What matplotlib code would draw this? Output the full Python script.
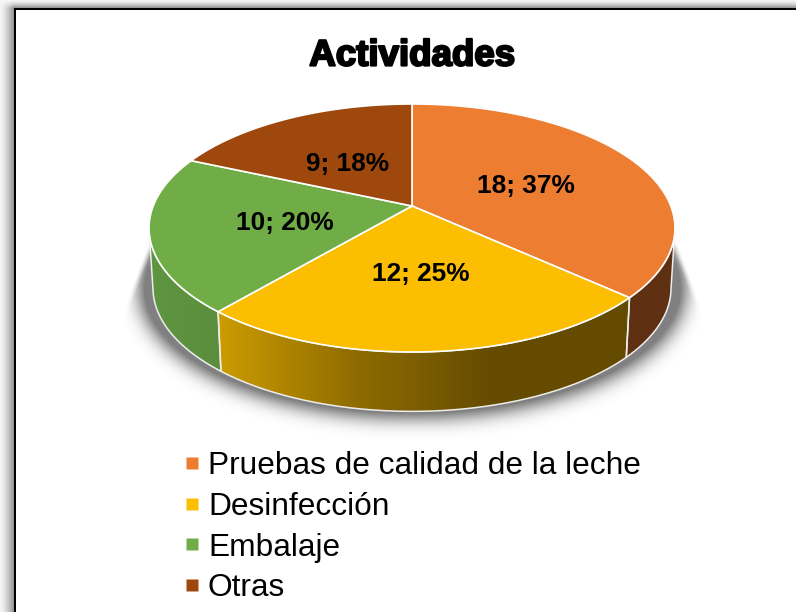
import numpy as np
import matplotlib
matplotlib.use("Agg")
import matplotlib.pyplot as plt
import matplotlib.patheffects as pe
from matplotlib.colors import LinearSegmentedColormap
from matplotlib.lines import Line2D
from matplotlib.patches import Polygon

plt.rcParams['font.family'] = ['Liberation Sans', 'DejaVu Sans']

# datos
categorias = ['Pruebas de calidad de la leche', 'Desinfección', 'Embalaje', 'Otras']
valores = [18, 12, 10, 9]
etiquetas = ['18; 37%', '12; 25%', '10; 20%', '9; 18%']
colores = ['#ED7D31', '#FCBE00', '#70AD47', '#9E480E']
titulo = 'Actividades'

# geometria del disco en pixeles
CX, CY = 412, 206
A, B, K = 120.1, 258.8, 0.1774
ALTO = 60
ESCALA_BASE = 0.985
LABEL_POS = [(526, 186), (421, 274), (285, 223), (348, 164)]


def borde(theta, base=False):
    # theta en grados, sentido horario desde arriba
    t = np.radians(theta)
    u, v = np.sin(t), np.cos(t)
    w = 1 + K * v
    x, y = B * u / w, -A * v / w
    if base:
        return CX + x * ESCALA_BASE, CY + 22 + (y - 22) * 0.995 + ALTO
    return CX + x, CY + y


def blur(img, sigma):
    r = int(sigma * 3)
    g = np.exp(-0.5 * (np.arange(-r, r + 1) / sigma) ** 2)
    g /= g.sum()
    img = np.apply_along_axis(lambda f: np.convolve(f, g, mode='same'), 0, img)
    return np.apply_along_axis(lambda f: np.convolve(f, g, mode='same'), 1, img)


fig = plt.figure(figsize=(7.96, 6.12), dpi=100)
ax = fig.add_axes([0, 0, 1, 1])

# marco con sombra
yy, xx = np.mgrid[0:612, 0:796]
fx = np.clip((xx + 0.5) / 14, 0, 1)
fy = np.clip((yy + 0.5) / 8, 0, 1)
fondo = 0.96 - 0.40 * (fx * fy) ** 1.5
fondo[(xx >= 14) & (yy >= 8)] = 0.0
fondo[(xx >= 16) & (yy >= 10)] = 1.0
ax.imshow(fondo, cmap='gray', vmin=0, vmax=1, extent=(0, 796, 612, 0), zorder=0)

# sombra del disco
elipse = ((xx - 412) / 272.0) ** 2 + ((yy - 288) / 128.0) ** 2 <= 1
sombra = blur(elipse.astype(float), 10)
limite = 262 + (yy - 245) * 21 / 55.0
sombra *= np.clip((limite - np.abs(xx - 412.5)) / 6.0 + 0.5, 0, 1)
sombra[yy < 245] = 0
rgba = np.zeros((612, 796, 4))
rgba[..., 3] = np.clip(sombra * 0.8, 0, 0.5)
ax.imshow(rgba, extent=(0, 796, 612, 0), zorder=1)

# angulos de cada porcion
cortes = np.cumsum([0] + valores) / sum(valores) * 360
visible = np.degrees(np.arccos(-K)), 360 - np.degrees(np.arccos(-K))

# paredes laterales
amarillo = LinearSegmentedColormap.from_list('am', ['#CC9C00', '#8F6C00', '#654B00', '#654B00'])
verde = LinearSegmentedColormap.from_list('ve', ['#5F9640', '#5A8D3C'])
marron = LinearSegmentedColormap.from_list('ma', ['#5F3012', '#5F3012'])
mapas = [marron, amarillo, verde, None]
for i, mapa in enumerate(mapas):
    ini, fin = max(cortes[i], visible[0]), min(cortes[i + 1], visible[1])
    if mapa is None or ini >= fin:
        continue
    th = np.linspace(ini, fin, 80)
    xa, ya = borde(th)
    xb, yb = borde(th[::-1], base=True)
    px, py = np.r_[xa, xb], np.r_[ya, yb]
    pared = Polygon(np.c_[px, py], closed=True, fc='none', ec='none', zorder=2)
    ax.add_patch(pared)
    grad = ax.imshow(np.linspace(0, 1, 256)[None, :], cmap=mapa, aspect='auto', zorder=2,
                     extent=(px.min(), px.max(), py.max(), py.min()))
    grad.set_clip_path(pared)
    ax.plot(np.r_[px, px[0]], np.r_[py, py[0]], color='#EDEDED', lw=1.1, zorder=3)

# cara superior
for i, color in enumerate(colores):
    th = np.linspace(cortes[i], cortes[i + 1], 120)
    xa, ya = borde(th)
    ax.add_patch(Polygon(np.c_[np.r_[CX, xa], np.r_[CY, ya]], closed=True, fc=color,
                         ec='white', lw=1.2, zorder=4))

for texto, (lx, ly) in zip(etiquetas, LABEL_POS):
    ax.text(lx, ly, texto, fontsize=18.9, fontweight='bold', color='black',
            ha='center', va='center', zorder=5)

t = ax.text(412, 56, titulo, fontsize=26.4, fontweight='bold', color='black',
            ha='center', va='center', zorder=5)
t.set_path_effects([pe.withStroke(linewidth=1.6, foreground='black')])

marcas = [Line2D([], [], ls='none', marker='s', ms=8, mfc=c, mec='none') for c in colores]
ax.legend(marcas, categorias, loc='upper left', bbox_to_anchor=(183.6 / 796, 1 - 451 / 612),
          frameon=False, fontsize=22.8, labelspacing=0.34, handlelength=0.5,
          handletextpad=0.27, borderpad=0, borderaxespad=0)

ax.set_xlim(0, 796)
ax.set_ylim(612, 0)
ax.axis('off')

fig.savefig('out.png', dpi=100)
